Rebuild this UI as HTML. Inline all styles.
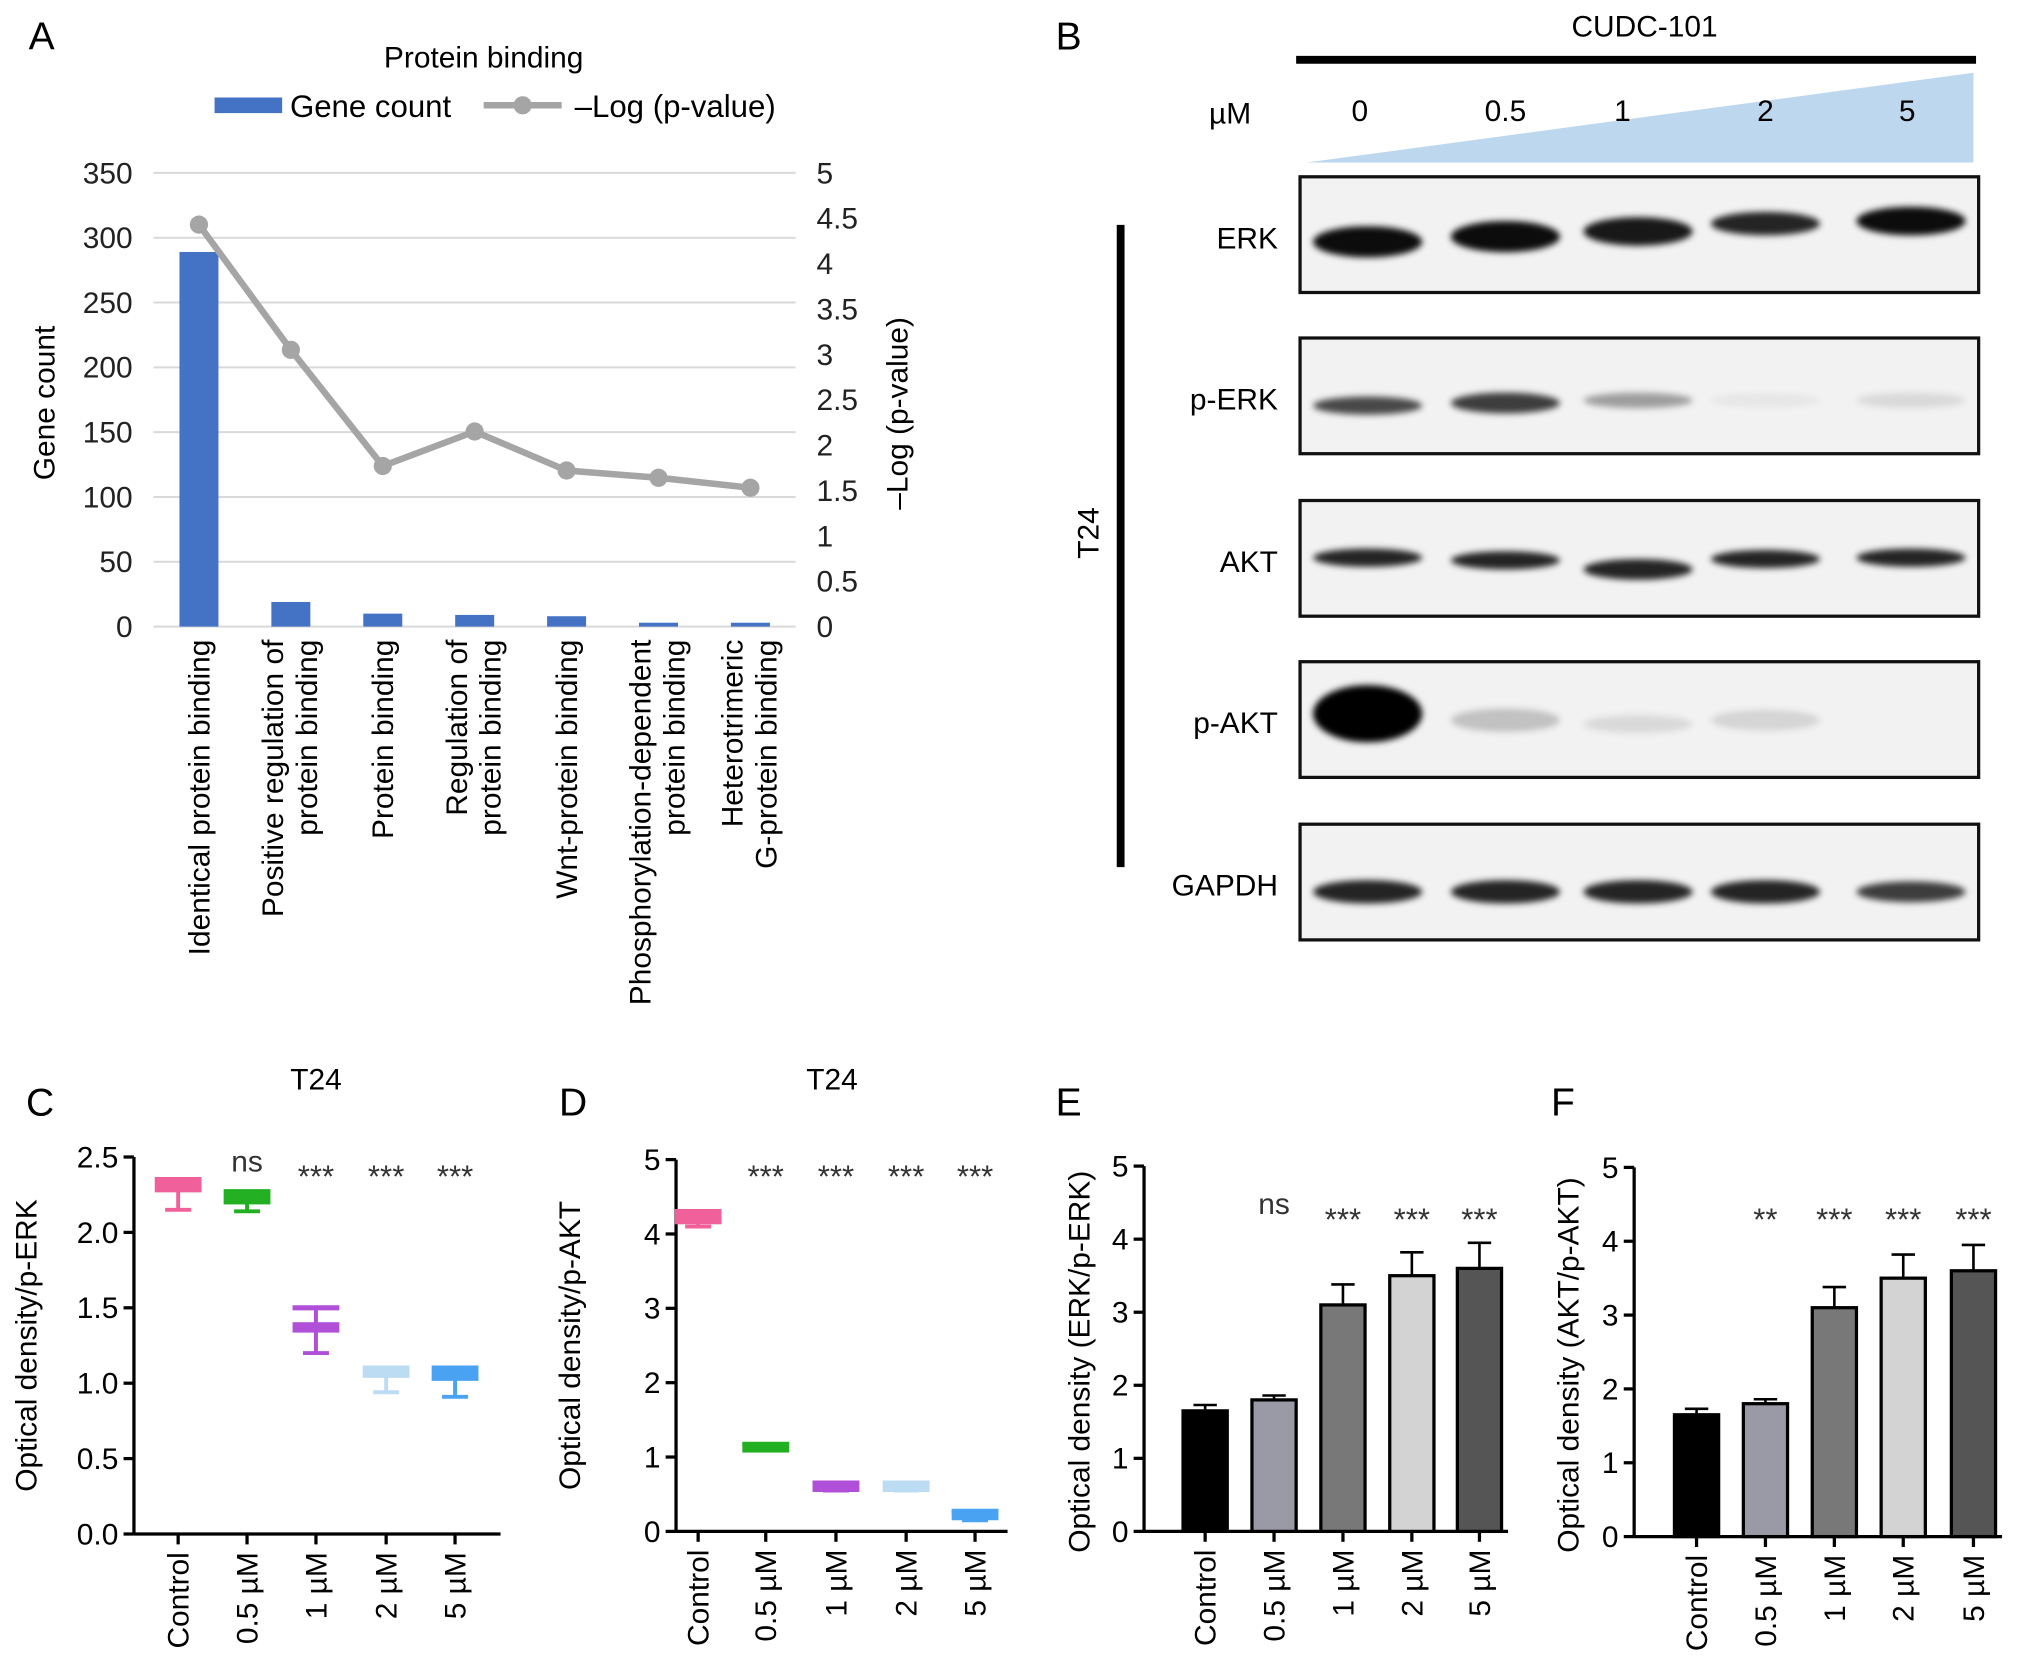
<!DOCTYPE html>
<html><head><meta charset="utf-8"><style>
html,body{margin:0;padding:0;background:#fff}
svg{display:block;font-family:"Liberation Sans",sans-serif}
</style></head><body>
<svg id="fig" width="2032" height="1677" viewBox="0 0 1563 1290" xmlns="http://www.w3.org/2000/svg">
<defs><filter id="blur" x="-20%" y="-50%" width="140%" height="200%"><feGaussianBlur stdDeviation="2.5"/></filter></defs>
<g id="A"></g>
<g id="B"></g>
<g id="C"></g>
<g id="D"></g>
<g id="E"></g>
<g id="F"></g>
</svg>
<script>
const aCategories=[["Identical protein binding"],["Positive regulation of","protein binding"],["Protein binding"],["Regulation of","protein binding"],["Wnt-protein binding"],["Phosphorylation-dependent","protein binding"],["Heterotrimeric","G-protein binding"]];
const aGeneCount=[289,19,10,9,8,3,3];
const aLogP=[4.43,3.05,1.77,2.15,1.72,1.64,1.53];
const aLeftTicks=[0,50,100,150,200,250,300,350];
const aRightTicks=[0,0.5,1,1.5,2,2.5,3,3.5,4,4.5,5];
const doseLabels=["Control","0.5 µM","1 µM","2 µM","5 µM"];
const cMeans=[2.3,2.22,1.37,1.07,1.05];
const cLow=[2.15,2.14,1.2,0.94,0.91];
const cHigh=[2.35,2.27,1.5,1.1,1.1];
const cSig=["","ns","***","***","***"];
const cTicks=[0,0.5,1,1.5,2,2.5];
const dMeans=[4.2,1.13,0.6,0.6,0.22];
const dLow=[4.1,1.1,0.55,0.55,0.15];
const dHigh=[4.3,1.17,0.65,0.65,0.27];
const dSig=["","***","***","***","***"];
const eMeans=[1.65,1.8,3.1,3.5,3.6];
const eErr=[0.08,0.06,0.28,0.32,0.35];
const eSig=["","ns","***","***","***"];
const fMeans=[1.65,1.8,3.1,3.5,3.6];
const fErr=[0.08,0.06,0.28,0.32,0.35];
const fSig=["","**","***","***","***"];
const barTicks=[0,1,2,3,4,5];
const NS="http://www.w3.org/2000/svg";
function el(p,t,a,txt){const e=document.createElementNS(NS,t);for(const k in a)e.setAttribute(k,a[k]);if(txt!==undefined)e.textContent=txt;p.appendChild(e);return e;}
// Panel A
(function(){
const g=document.getElementById('A');
const x0=118,x1=612,yb=482,yt=133;
const yL=v=>yb-(v/350)*(yb-yt), yR=v=>yb-(v/5)*(yb-yt);
const xc=i=>153+i*70.7;
let t=el(g,'text',{x:22,y:38,'font-size':30},'A');
t=el(g,'text',{x:372,y:52,'font-size':23,'text-anchor':'middle'},'Protein binding');
let r=el(g,'rect',{x:165,y:75,width:52,height:12,fill:'#4472c4'});
t=el(g,'text',{x:223,y:90,'font-size':24},'Gene count');
let l=el(g,'line',{x1:372,y1:81,x2:432,y2:81,stroke:'#a5a5a5','stroke-width':5});
el(g,'circle',{cx:402,cy:81,r:7,fill:'#a5a5a5'});
t=el(g,'text',{x:442,y:90,'font-size':24},'‒Log (p-value)');
aLeftTicks.forEach(v=>{let gl=el(g,'line',{x1:x0,x2:x1,y1:yL(v),y2:yL(v),stroke:'#d9d9d9','stroke-width':1.5});
let tt=el(g,'text',{x:102,y:yL(v)+8,'font-size':23,'text-anchor':'end',fill:'#222'},v);});
aRightTicks.forEach(v=>{let tt=el(g,'text',{x:628,y:yR(v)+8,'font-size':23,fill:'#222'},v);});
t=el(g,'text',{transform:'translate(42,310) rotate(-90)','font-size':23,'text-anchor':'middle'},'Gene count');
t=el(g,'text',{transform:'translate(698,318) rotate(-90)','font-size':23,'text-anchor':'middle'},'‒Log (p-value)');
aGeneCount.forEach((v,i)=>{let b=el(g,'rect',{x:xc(i)-15,y:yL(v),width:30,height:yb-yL(v),fill:'#4472c4'});});
let pts=aLogP.map((v,i)=>xc(i)+','+yR(v)).join(' ');
l=el(g,'polyline',{points:pts,fill:'none',stroke:'#a5a5a5','stroke-width':5});
aLogP.forEach((v,i)=>{let c=el(g,'circle',{cx:xc(i),cy:yR(v),r:7,fill:'#a5a5a5'});});
aCategories.forEach((lines,i)=>{const n=lines.length;lines.forEach((s,j)=>{
let tt=el(g,'text',{transform:`translate(${xc(i)+8-(n-1-j)*26+(n-1)*12},492) rotate(-90)`,'font-size':23,'text-anchor':'end'},s);});});
})();
// Panel B
(function(){
const g=document.getElementById('B');
let t=el(g,'text',{x:812,y:38,'font-size':30},'B');
t=el(g,'text',{x:1265,y:28,'font-size':23,'text-anchor':'middle'},'CUDC-101');
el(g,'line',{x1:997,x2:1520,y1:46,y2:46,stroke:'#000','stroke-width':6});
let p=el(g,'polygon',{points:'1005,125 1518,56 1518,125',fill:'#bdd7ee'});
el(g,'text',{x:930,y:95,'font-size':23},'µM');
const lanes=[1052,1158,1260,1358,1470];
const lblx=[1046,1158,1248,1358,1467];
["0","0.5","1","2","5"].forEach((s,i)=>{let tt=el(g,'text',{x:lblx[i],y:93,'font-size':23,'text-anchor':'middle'},s);});
el(g,'line',{x1:862,x2:862,y1:173,y2:667,stroke:'#000','stroke-width':6});
t=el(g,'text',{transform:'translate(845,410) rotate(-90)','font-size':23,'text-anchor':'middle'},'T24');
const blots=[["ERK",136,[0.95,0.95,0.9,0.85,0.95],[12,12,11,9,11],[50,46,42,36,34]],["p-ERK",260,[0.7,0.75,0.35,0.05,0.1],[7,8,6,5,6],[52,50,48,48,48]],["AKT",385,[0.85,0.85,0.85,0.85,0.85],[7,7,8,7,7],[44,46,53,45,44]],["p-AKT",509,[1,0.2,0.1,0.12,0],[22,9,7,8,6],[40,45,48,45,45]],["GAPDH",634,[0.85,0.85,0.85,0.85,0.75],[9,9,9,9,8],[52,52,52,52,52]]];
blots.forEach(b=>{const [name,y,ints,hs,cys]=b;
let bx=el(g,'rect',{x:1000,y:y,width:522,height:89,fill:'#f2f2f2',stroke:'#111','stroke-width':2.5});
let lb=el(g,'text',{x:983,y:y+55,'font-size':23,'text-anchor':'end'},name);
ints.forEach((v,i)=>{if(v>0){let e=el(g,'ellipse',{cx:lanes[i],cy:y+cys[i],rx:42,ry:hs[i],fill:'#000','fill-opacity':v,filter:'url(#blur)'});}});
});
})();
function axesPanel(gid,opt){
const g=document.getElementById(gid);
const {x0,x1,yb,ytop,vmax,ticks,xs,title,ylab,letter,lx,ly,fmt}=opt;
const y=v=>yb-(v/vmax)*(yb-ytop);
let t=el(g,'text',{x:lx,y:ly,'font-size':30},letter);
if(title){t=el(g,'text',{x:opt.tx,y:838,'font-size':23,'text-anchor':'middle'},title);}
let a=el(g,'line',{x1:x0,x2:x0,y1:ytop,y2:yb,stroke:'#000','stroke-width':2.5});
a=el(g,'line',{x1:x0,x2:x1,y1:yb,y2:yb,stroke:'#000','stroke-width':2.5});
ticks.forEach(v=>{el(g,'line',{x1:x0-8,x2:x0,y1:y(v),y2:y(v),stroke:'#000','stroke-width':2.5});
let tt=el(g,'text',{x:x0-12,y:y(v)+8,'font-size':23,'text-anchor':'end'},fmt?v.toFixed(1):v);});
xs.forEach((xx,i)=>{el(g,'line',{x1:xx,x2:xx,y1:yb,y2:yb+8,stroke:'#000','stroke-width':2.5});
let tt=el(g,'text',{transform:`translate(${xx+8},${yb+14}) rotate(-90)`,'font-size':23,'text-anchor':'end'},doseLabels[i]);});
t=el(g,'text',{transform:`translate(${opt.yx},${(yb+ytop)/2+opt.yoff}) rotate(-90)`,'font-size':23,'text-anchor':'middle'},ylab);
return {g,y};
}
function sigText(g,xx,s,ty){let e=el(g,'text',{x:xx,y:s=="ns"?ty-4:ty+8,'font-size':s=="ns"?23:24,'text-anchor':'middle',fill:'#333'},s);}
function boxPanel(gid,opt,means,low,high,sig,colors){
const {g,y}=axesPanel(gid,opt);
opt.xs.forEach((xx,i)=>{
let w=el(g,'line',{x1:xx,x2:xx,y1:y(high[i]),y2:y(low[i]),stroke:colors[i],'stroke-width':3});
el(g,'line',{x1:xx-10,x2:xx+10,y1:y(low[i]),y2:y(low[i]),stroke:colors[i],'stroke-width':3});
el(g,'line',{x1:xx-18,x2:xx+18,y1:y(high[i]),y2:y(high[i]),stroke:colors[i],'stroke-width':4});
let b=el(g,'rect',{x:xx-18,y:y(means[i])-4,width:36,height:8,fill:colors[i]});
if(sig[i])sigText(g,xx,sig[i],opt.ty);
});}
function barPanel(gid,opt,means,err,sig){
const {g,y}=axesPanel(gid,opt);const cols=['#000','#9a9aa6','#787878','#d3d3d3','#555'];
opt.xs.forEach((xx,i)=>{
el(g,'line',{x1:xx,x2:xx,y1:y(means[i]),y2:y(means[i]+err[i]),stroke:'#000','stroke-width':2});
el(g,'line',{x1:xx-9,x2:xx+9,y1:y(means[i]+err[i]),y2:y(means[i]+err[i]),stroke:'#000','stroke-width':2});
let b=el(g,'rect',{x:xx-17,y:y(means[i]),width:34,height:opt.yb-y(means[i]),fill:cols[i],stroke:'#000','stroke-width':2.5});
if(sig[i])sigText(g,xx,sig[i],opt.ty);
});}
const boxCols=['#f0609a','#22b022','#b04fd8','#bcdcf4','#4aa2f2'];
boxPanel('C',{x0:103,x1:385,yb:1180,ytop:890,vmax:2.5,ticks:cTicks,xs:[137,190,243,297,350],title:'T24',tx:243,ylab:'Optical density/p-ERK',letter:'C',lx:20,ly:858,yx:28,yoff:0,fmt:true,ty:905},cMeans,cLow,cHigh,cSig,boxCols);
boxPanel('D',{x0:520,x1:775,yb:1178,ytop:892,vmax:5,ticks:[0,1,2,3,4,5],xs:[537,589,643,697,750],title:'T24',tx:640,ylab:'Optical density/p-AKT',letter:'D',lx:430,ly:858,yx:446,yoff:0,ty:905},dMeans,dLow,dHigh,dSig,boxCols);
barPanel('E',{x0:880,x1:1160,yb:1178,ytop:897,vmax:5,ticks:barTicks,xs:[927,980,1033,1086,1138],ylab:'Optical density (ERK/p-ERK)',letter:'E',lx:812,ly:858,yx:838,yoff:10,ty:938},eMeans,eErr,eSig);
barPanel('F',{x0:1257,x1:1540,yb:1182,ytop:898,vmax:5,ticks:barTicks,xs:[1305,1358,1411,1464,1518],ylab:'Optical density (AKT/p-AKT)',letter:'F',lx:1193,ly:858,yx:1214,yoff:10,ty:938},fMeans,fErr,fSig);
</script>
</body></html>
